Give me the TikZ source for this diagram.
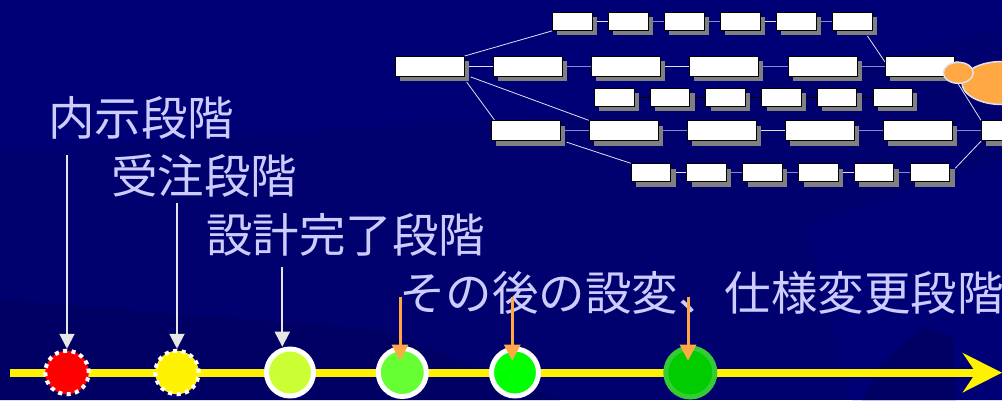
\documentclass[tikz,border=0pt]{standalone}
\usepackage{fontspec}
\newfontfamily\jpfont{Noto Sans CJK JP}
\usetikzlibrary{arrows.meta,shapes.geometric,shadows}
\definecolor{navy}{RGB}{0,0,110}
\definecolor{navydark}{RGB}{0,0,100}
\definecolor{navylight}{RGB}{0,0,118}
\definecolor{labelc}{RGB}{204,204,255}
\definecolor{linkl}{RGB}{136,136,204}
\definecolor{linkw}{RGB}{225,225,240}
\definecolor{shade}{RGB}{128,128,128}
\definecolor{pointc}{RGB}{230,230,230}
\definecolor{orangec}{RGB}{255,168,68}
\definecolor{ygreen}{RGB}{204,255,51}
\definecolor{lgreen}{RGB}{102,255,51}
\definecolor{dgreen}{RGB}{0,204,0}
\definecolor{dgreenring}{RGB}{51,204,51}
\pgfdeclarelayer{bg}
\pgfdeclarelayer{links}
\pgfsetlayers{bg,links,main}

\begin{document}
\begin{tikzpicture}[x=1pt, y=-1pt,
  box/.style={draw=black, line width=0.9pt, fill=white, inner sep=0pt, anchor=north west,
    drop shadow={shadow xshift=5pt, shadow yshift=-5pt, fill=shade, opacity=1}},
  smallbox/.style={box, minimum width=39.5pt, minimum height=18pt},
  bigbox/.style={box, minimum width=69pt, minimum height=20pt},
  rowlink/.style={draw=linkl, line width=1.3pt},
  rowlinkw/.style={draw=linkw, line width=1.3pt},
  darklink/.style={draw=black, line width=1.3pt},
  branch/.style={draw=linkw, line width=0.8pt},
  blob/.style={ellipse, draw=linkw, line width=1.5pt, fill=orangec, inner sep=0pt},
  lab/.style={text=labelc, font=\jpfont\fontsize{46.5}{50}\selectfont, inner sep=0pt, anchor=base west},
  stage/.style={circle, inner sep=0pt, draw=white, line width=5pt, minimum size=47pt},
  early/.style={stage, line width=4pt, dash pattern=on 4pt off 4.5pt, minimum size=43.5pt},
  stagearrow/.style={draw=pointc, line width=2pt, -{Triangle[length=15pt,width=15pt]}},
  changearrow/.style={draw=orangec, line width=3pt, -{Triangle[length=16pt,width=16pt]}},
  timeline/.style={draw=yellow, line width=8pt, -{Stealth[length=39pt,width=39pt,inset=13pt]}}
]
\useasboundingbox (0,0) rectangle (1002,400);

% background
\begin{pgfonlayer}{bg}
  \fill[navy] (0,0) rectangle (1002,400);
  \fill[navylight] (0,0) -- (1002,0) -- (1002,30) -- (640,110) -- (0,150) -- cycle;
  \fill[navydark] (0,300) -- (380,330) -- (560,400) -- (0,400) -- cycle;
  \fill[navylight] (805,225) -- (1002,160) -- (1002,400) -- (852,400) -- (838,352) -- cycle;
  \fill[navydark] (880,365) -- (923,327) -- (953,336) -- (956,400) -- (862,400) -- cycle;
\end{pgfonlayer}

% network
\node[smallbox] (p11) at (552,12) {};
\node[smallbox] (p12) at (608,12) {};
\node[smallbox] (p13) at (664,12) {};
\node[smallbox] (p14) at (720,12) {};
\node[smallbox] (p15) at (776,12) {};
\node[smallbox] (p16) at (832,12) {};

\node[bigbox] (p21) at (394.7,56) {};
\node[bigbox] (p22) at (492.7,56) {};
\node[bigbox] (p23) at (590.7,56) {};
\node[bigbox] (p24) at (689,56) {};
\node[bigbox] (p25) at (787.5,56) {};
\node[bigbox] (p26) at (885,56) {};

\node[smallbox] (p31) at (594,87.7) {};
\node[smallbox] (p32) at (649.7,87.7) {};
\node[smallbox] (p33) at (705.4,87.7) {};
\node[smallbox] (p34) at (761.1,87.7) {};
\node[smallbox] (p35) at (816.8,87.7) {};
\node[smallbox] (p36) at (872.5,87.7) {};

\node[bigbox] (p41) at (490.7,120.3) {};
\node[bigbox] (p42) at (588.7,120.3) {};
\node[bigbox] (p43) at (686.7,120.3) {};
\node[bigbox] (p44) at (784.8,120.3) {};
\node[bigbox] (p45) at (883,120.3) {};
\node[bigbox] (p46) at (981,120.3) {};

\node[smallbox] (p51) at (630.8,163.3) {};
\node[smallbox] (p52) at (686.3,163.3) {};
\node[smallbox] (p53) at (742.3,163.3) {};
\node[smallbox] (p54) at (798.3,163.3) {};
\node[smallbox] (p55) at (853.8,163.3) {};
\node[smallbox] (p56) at (909.8,163.3) {};

\node[blob, minimum width=80pt, minimum height=43pt] (e2) at (1002,83) {};
\node[blob, minimum width=30pt, minimum height=21pt] (e1) at (958.3,72.8) {};

\begin{pgfonlayer}{links}
  \draw[rowlinkw] (p11.east) -- (p12.west);
  \draw[rowlink] (p12.east) -- (p13.west);
  \draw[rowlink] (p13.east) -- (p14.west);
  \draw[rowlinkw] (p14.east) -- (p15.west);
  \draw[rowlink] (p15.east) -- (p16.west);

  \draw[rowlinkw] (p21.east) -- (p22.west);
  \draw[rowlink] (p22.east) -- (p23.west);
  \draw[rowlinkw] (p23.east) -- (p24.west);
  \draw[rowlink] (p24.east) -- (p25.west);
  \draw[rowlink] (p25.east) -- (p26.west);

  \draw[darklink] (p31.east) -- (p32.west);
  \draw[darklink] (p32.east) -- (p33.west);
  \draw[darklink] (p33.east) -- (p34.west);
  \draw[darklink] (p34.east) -- (p35.west);
  \draw[darklink] (p35.east) -- (p36.west);

  \draw[rowlink] (p41.east) -- (p42.west);
  \draw[rowlink] (p42.east) -- (p43.west);
  \draw[rowlinkw] (p43.east) -- (p44.west);
  \draw[rowlink] (p44.east) -- (p45.west);
  \draw[rowlink] (p45.east) -- (p46.west);

  \draw[rowlinkw] (p51.east) -- (p52.west);
  \draw[rowlink] (p52.east) -- (p53.west);
  \draw[rowlink] (p53.east) -- (p54.west);
  \draw[rowlinkw] (p54.east) -- (p55.west);
  \draw[rowlink] (p55.east) -- (p56.west);

  \draw[branch] (p21.north east) -- (p11.south west);
  \draw[branch] ([xshift=6pt]p21.south east) -- (p42.north west);
  \draw[branch] ([xshift=2pt,yshift=-5pt]p21.south east) -- ([xshift=4pt]p41.north west);
  \draw[branch] ([xshift=6pt,yshift=-1pt]p41.south east) -- (p51.north west);
  \draw[branch] ([xshift=-5pt,yshift=-5pt]p16.south east) -- ([yshift=-6pt]p26.north west);
  \draw[branch] (e1.south) -- (p46.north west);
  \draw[branch] ([xshift=5pt,yshift=-5pt]p56.north east) -- (p46.south west);
\end{pgfonlayer}

% stages
\node[lab] (lab1) at (48,135) {内示段階};
\node[lab] (lab2) at (111,193.7) {受注段階};
\node[lab] (lab3) at (206,252) {設計完了段階};
\node[lab] (lab4) at (399,310) {その後の設変、仕様変更段階};

\coordinate (t0) at (10,372.7);
\coordinate (t1) at (1002,372.7);
\draw[timeline] (t0) -- (t1);

\node[early, fill=red] (m1) at (67,372.5) {};
\node[early, fill=yellow] (m2) at (177,372.5) {};
\node[stage, fill=ygreen] (m3) at (290,372.5) {};
\node[stage, fill=lgreen, minimum size=48pt] (m4) at (402.3,372.5) {};
\node[stage, fill=green] (m5) at (515,372.5) {};
\node[stage, fill=dgreen, draw=dgreenring, minimum size=49pt] (m6) at (690.3,372.5) {};

\coordinate (s1) at (67,155.3);
\coordinate (s2) at (177,203.3);
\coordinate (s3) at (282.3,267.3);
\coordinate (e3) at (282.3,346.7);
\draw[stagearrow] (s1) -- (m1.north);
\draw[stagearrow] (s2) -- (m2.north);
\draw[stagearrow] (s3) -- (e3);

\coordinate (s4) at (400,296.7);
\coordinate (s5) at (512.3,296.7);
\coordinate (s6) at (688,296.7);
\coordinate (e4) at (400,360.7);
\coordinate (e5) at (512.3,360.7);
\coordinate (e6) at (688,360.7);
\draw[changearrow] (s4) -- (e4);
\draw[changearrow] (s5) -- (e5);
\draw[changearrow] (s6) -- (e6);

\end{tikzpicture}
\end{document}
